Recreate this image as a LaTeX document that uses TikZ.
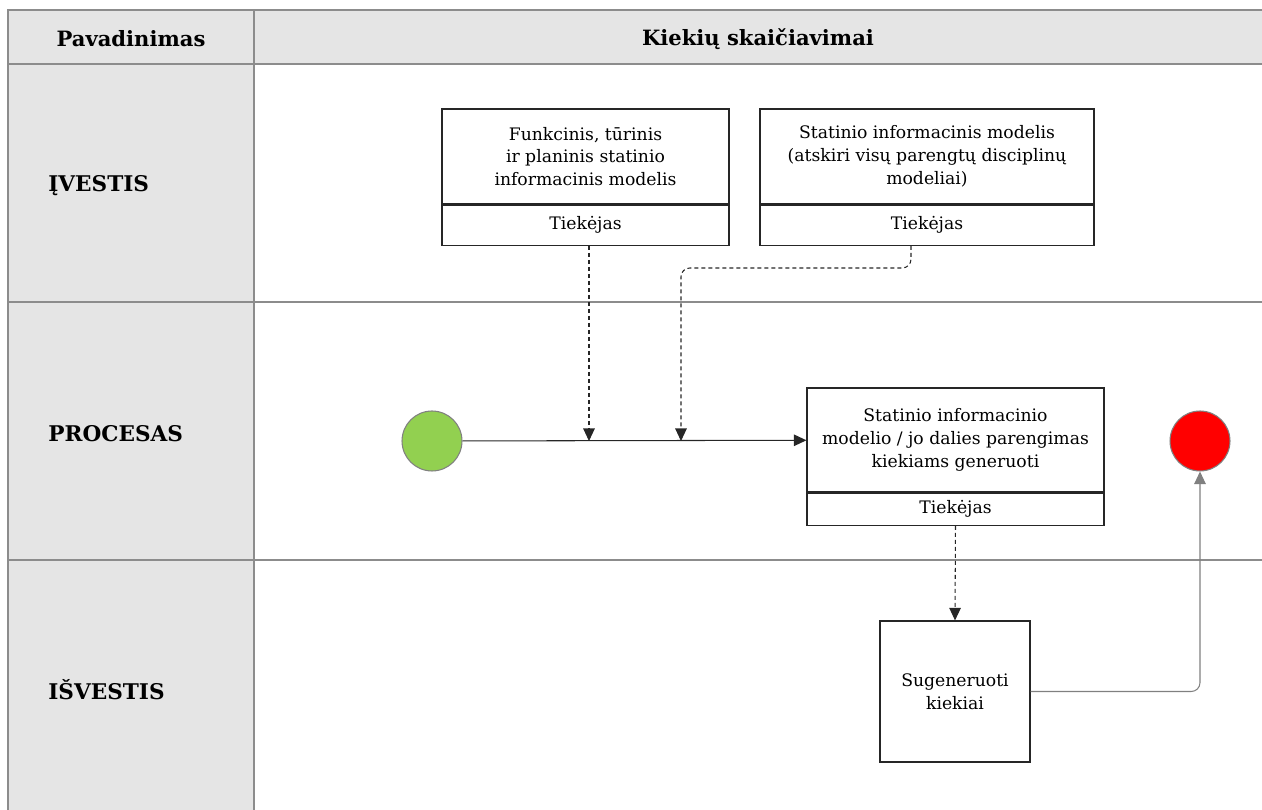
\documentclass[tikz,border=0pt]{standalone}
\usepackage{fontspec}
\setmainfont{DejaVu Serif}
\usetikzlibrary{arrows.meta,positioning}

\definecolor{startgreen}{HTML}{92D050}
\definecolor{stopred}{HTML}{FF0000}

\begin{document}
\begin{tikzpicture}[x=0.02cm, y=-0.02cm,
    >={Triangle[length=2.5mm,width=2.3mm]},
    grid/.style={draw=gray!90, line width=0.6pt},
    head/.style={font=\bfseries\fontsize{12}{14}\selectfont},
    lane/.style={font=\bfseries\fontsize{12.3}{14}\selectfont, anchor=west, inner sep=0pt},
    box/.style={draw=black!85, line width=0.7pt, align=center, inner sep=0pt,
        font=\fontsize{9.8}{13}\selectfont},
    flow/.style={->, line width=0.6pt, black!85},
    dflow/.style={->, line width=0.6pt, black!85, dash pattern=on 0.8mm off 0.6mm},
    event/.style={circle, draw=gray, line width=0.6pt, minimum size=1.2cm, inner sep=0pt}]
    \useasboundingbox (0,0) rectangle (1262,810);

    % Table
    \fill[gray!20] (8,10) rectangle (1262,64);
    \fill[gray!20] (8,64) rectangle (254,810);
    \draw[grid] (1262,10) -- (8,10) -- (8,810);
    \draw[grid] (254,10) -- (254,810);
    \foreach \y in {64,302,560}
        \draw[grid] (8,\y) -- (1262,\y);

    % Headings
    \node[head] (hname) at (131,39) {Pavadinimas};
    \node[head] (htitle) at (758,39) {Kiekių skaičiavimai};
    \node[lane] (lin) at (48,186) {ĮVESTIS};
    \node[lane] (lproc) at (48,434) {PROCESAS};
    \node[lane] (lout) at (48,690) {IŠVESTIS};

    % Input boxes
    \node[box, minimum width=5.74cm, minimum height=1.9cm] (f1) at (585.5,156.5)
        {Funkcinis, tūrinis\\ir planinis statinio\\informacinis modelis};
    \node[box, minimum width=5.74cm, minimum height=0.8cm, below=0pt of f1] (f1t) {Tiekėjas};
    \node[box, minimum width=6.68cm, minimum height=1.9cm] (f2) at (927,156.5)
        {Statinio informacinis modelis\\(atskiri visų parengtų disciplinų\\modeliai)};
    \node[box, minimum width=6.68cm, minimum height=0.8cm, below=0pt of f2] (f2t) {Tiekėjas};

    % Process
    \node[event, fill=startgreen] (start) at (432,441) {};
    \node[box, minimum width=5.94cm, minimum height=2.08cm] (p1) at (955.5,440)
        {Statinio informacinio\\modelio / jo dalies parengimas\\kiekiams generuoti};
    \node[box, minimum width=5.94cm, minimum height=0.64cm, below=0pt of p1] (p1t) {Tiekėjas};
    \node[event, fill=stopred] (stop) at (1200,441) {};

    % Output
    \node[box, minimum width=3cm, minimum height=2.82cm] (res) at (955,691.5)
        {Sugeneruoti\\kiekiai};

    % Connectors
    \coordinate (j1) at (589,441);
    \coordinate (j2) at (681,441);
    \coordinate (k2) at (911,268);
    \draw[flow] (start) -- (p1);
    \draw[dflow] (f1t.south -| j1) -- (j1);
    \draw[dflow, rounded corners=5pt] (f2t.south -| k2) -- (k2) -| (j2);
    \draw[dflow] (p1t.south) -- (res.north);
    \draw[flow, gray, rounded corners=5pt] (res.east) -| (stop.south);
\end{tikzpicture}
\end{document}
